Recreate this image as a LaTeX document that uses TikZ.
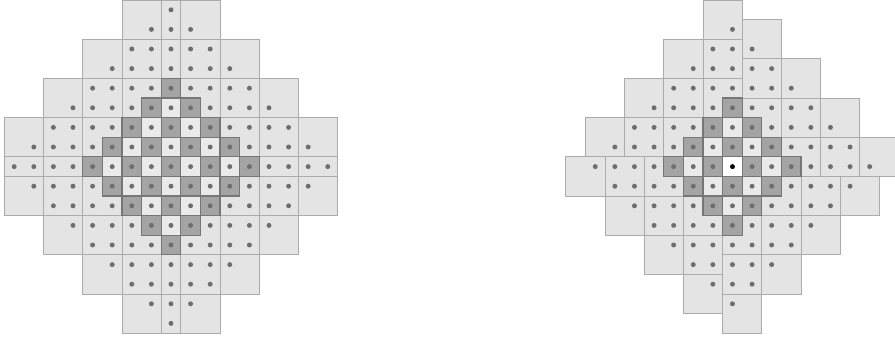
\documentclass[tikz,border=0pt]{standalone}
\definecolor{tilefill}{HTML}{E4E4E4}
\definecolor{tileline}{HTML}{ABABAB}
\definecolor{lightfill}{HTML}{EAEAEA}
\definecolor{lightline}{HTML}{9C9C9C}
\definecolor{darkfill}{HTML}{A4A4A4}
\definecolor{darkline}{HTML}{767676}
\definecolor{dotcol}{HTML}{6E6E6E}
\tikzset{
  tile/.style={fill=tilefill,draw=tileline,line width=0.6pt},
  lightcell/.style={fill=lightfill,draw=lightline,line width=0.6pt},
  darkcell/.style={fill=darkfill,draw=darkline,line width=0.9pt},
  centercell/.style={fill=white,draw=darkline,line width=0.9pt},
  gdot/.style={fill=dotcol},
  bdot/.style={fill=black}
}
\begin{document}
\begin{tikzpicture}[x=0.5cm,y=0.5cm]
\useasboundingbox (0,0) rectangle (45.663,17.245);
% ---------- left figure ----------
\begin{scope}[shift={(8.724,8.745)}]
  \foreach \kx in {-4,...,4}{
    \foreach \ky in {-4,...,4}{
      \pgfmathtruncatemacro{\m}{max(2*abs(\kx)-1,0)+max(2*abs(\ky)-1,0)}
      \ifnum\m<9
        \pgfmathsetmacro{\xa}{\kx==0 ? -0.5 : (\kx>0 ? 2*\kx-1.5 : 2*\kx-0.5)}
        \pgfmathsetmacro{\xb}{\kx==0 ? 0.5 : \xa+2}
        \pgfmathsetmacro{\ya}{\ky==0 ? -0.5 : (\ky>0 ? 2*\ky-1.5 : 2*\ky-0.5)}
        \pgfmathsetmacro{\yb}{\ky==0 ? 0.5 : \ya+2}
        \path[tile] (\xa,\ya) rectangle (\xb,\yb);
      \fi
    }
  }
  \foreach \i in {-4,...,4}{
    \foreach \j in {-4,...,4}{
      \pgfmathtruncatemacro{\d}{abs(\i)+abs(\j)}
      \pgfmathtruncatemacro{\p}{mod(\d,2)}
      \ifnum\d<5 \ifnum\p=1
        \path[lightcell] (\i-0.5,\j-0.5) rectangle (\i+0.5,\j+0.5);
      \fi\fi
    }
  }
  \foreach \i in {-4,...,4}{
    \foreach \j in {-4,...,4}{
      \pgfmathtruncatemacro{\d}{abs(\i)+abs(\j)}
      \pgfmathtruncatemacro{\p}{mod(\d,2)}
      \ifnum\d<5 \ifnum\p=0
        \path[darkcell] (\i-0.5,\j-0.5) rectangle (\i+0.5,\j+0.5);
      \fi\fi
    }
  }
  \foreach \i in {-8,...,8}{
    \foreach \j in {-8,...,8}{
      \pgfmathtruncatemacro{\d}{abs(\i)+abs(\j)}
      \ifnum\d<9
        \path[gdot] (\i,\j) circle[radius=1.8pt];
      \fi
    }
  }
\end{scope}
% ---------- right figure ----------
\begin{scope}[shift={(37.37,8.745)}]
  \foreach \r in {0,-90,-180,-270}{
    \begin{scope}[rotate=\r]
      \foreach \a in {0,...,3}{
        \foreach \b in {0,...,3}{
          \pgfmathtruncatemacro{\s}{\a+\b}
          \ifnum\s<4
            \path[tile] ({-2*\a-1.5},{2*\b+0.5}) rectangle ({-2*\a+0.5},{2*\b+2.5});
          \fi
        }
      }
    \end{scope}
  }
  \foreach \i in {-3,...,3}{
    \foreach \j in {-3,...,3}{
      \pgfmathtruncatemacro{\d}{abs(\i)+abs(\j)}
      \pgfmathtruncatemacro{\p}{mod(\d,2)}
      \ifnum\d<4 \ifnum\p=0 \ifnum\d>0
        \path[lightcell] (\i-0.5,\j-0.5) rectangle (\i+0.5,\j+0.5);
      \fi\fi\fi
    }
  }
  \foreach \i in {-3,...,3}{
    \foreach \j in {-3,...,3}{
      \pgfmathtruncatemacro{\d}{abs(\i)+abs(\j)}
      \pgfmathtruncatemacro{\p}{mod(\d,2)}
      \ifnum\d<4 \ifnum\p=1
        \path[darkcell] (\i-0.5,\j-0.5) rectangle (\i+0.5,\j+0.5);
      \fi\fi
    }
  }
  \path[centercell] (-0.5,-0.5) rectangle (0.5,0.5);
  \foreach \i in {-7,...,7}{
    \foreach \j in {-7,...,7}{
      \pgfmathtruncatemacro{\d}{abs(\i)+abs(\j)}
      \ifnum\d<8 \ifnum\d>0
        \path[gdot] (\i,\j) circle[radius=1.8pt];
      \fi\fi
    }
  }
  \path[bdot] (0,0) circle[radius=1.8pt];
\end{scope}
\end{tikzpicture}
\end{document}
